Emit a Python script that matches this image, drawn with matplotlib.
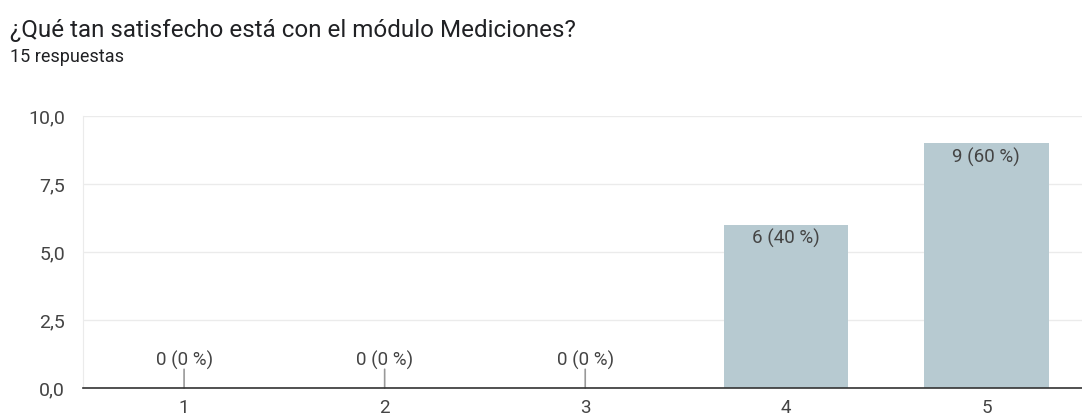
import matplotlib.pyplot as plt

plt.rcParams['font.family'] = ['Roboto', 'DejaVu Sans']

categories = ['1', '2', '3', '4', '5']
counts = [0, 0, 0, 6, 9]
total = 15
yticks = [0, 2.5, 5, 7.5, 10]
ytick_labels = ['0,0', '2,5', '5,0', '7,5', '10,0']

bar_color = '#b7cad1'
text_color = '#444444'

fig = plt.figure(figsize=(10.82, 4.17), dpi=100)
ax = fig.add_axes([0.0767, 0.0695, 0.925, 0.6523])

xs = list(range(1, len(categories) + 1))
ax.bar(xs, counts, width=0.62, color=bar_color, zorder=2)

for x, c in zip(xs, counts):
    pct = round(100 * c / total)
    label = '%d (%d %%)' % (c, pct)
    if c == 0:
        ax.annotate('', xy=(x, 0), xytext=(0, 13.5), textcoords='offset points',
                    arrowprops=dict(arrowstyle='-', color='#999999', lw=1.2, shrinkA=0, shrinkB=0))
        ax.annotate(label, xy=(x, 0), xytext=(0, 20), textcoords='offset points',
                    ha='center', va='center', fontsize=13.5, color=text_color)
    else:
        ax.annotate(label, xy=(x, c), xytext=(0, -10), textcoords='offset points',
                    ha='center', va='center', fontsize=13.5, color=text_color)

ax.set_xlim(0.496, 5.486)
ax.set_ylim(0, 10)
ax.set_xticks(xs)
ax.set_xticklabels(categories)
ax.set_yticks(yticks)
ax.set_yticklabels(ytick_labels)
ax.tick_params(axis='both', length=0, labelsize=14, colors=text_color)
ax.tick_params(axis='x', pad=8, labelsize=13.5)
ax.tick_params(axis='y', pad=13)
ax.grid(axis='y', color='#ebebeb', lw=1, zorder=0)

for s in ['top', 'right']:
    ax.spines[s].set_visible(False)
ax.spines['left'].set_color('#ebebeb')
ax.spines['bottom'].set_color('#333333')
ax.spines['bottom'].set_linewidth(1.2)
ax.spines['bottom'].set_zorder(3)

fig.text(10 / 1082, 1 - 30 / 417, '¿Qué tan satisfecho está con el módulo Mediciones?',
         fontsize=17.4, color='#202124', va='center', ha='left')
fig.text(10 / 1082, 1 - 57 / 417, '15 respuestas',
         fontsize=13, color='#202124', va='center', ha='left')

fig.savefig('out.png', dpi=100)
